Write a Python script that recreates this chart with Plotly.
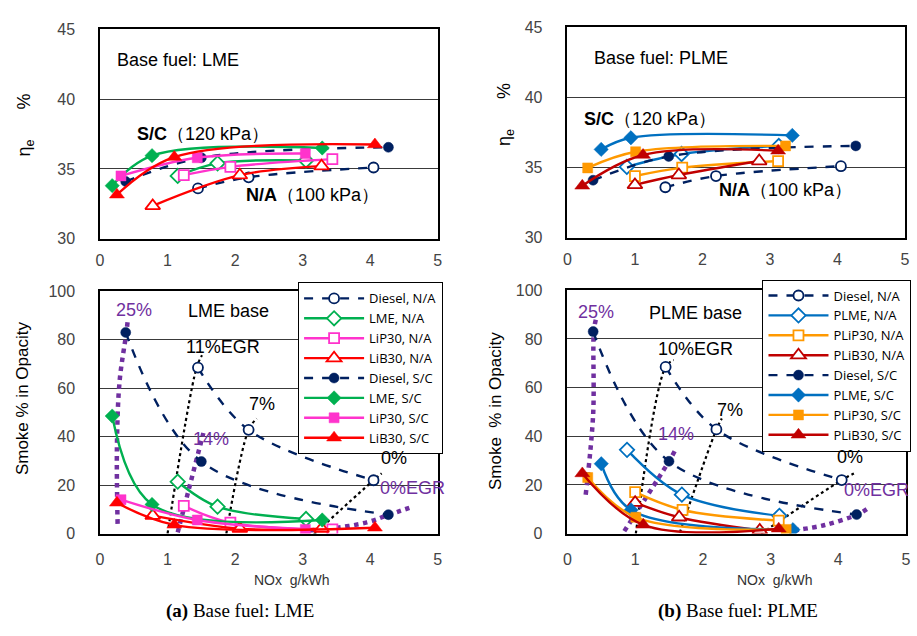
import plotly.graph_objects as go

W, H = 917, 636

# ---------------- data (NOx g/kWh, brake thermal efficiency %, smoke %) ----------------
# Base fuel: LME (left)
diesel_na_nox = [1.45, 2.20, 4.05]
diesel_na_eff = [33.6, 34.4, 35.1]
diesel_na_smk = [68.5, 42.8, 22.0]
diesel_sc_nox = [0.38, 1.50, 4.27]
diesel_sc_eff = [34.1, 35.8, 36.55]
diesel_sc_smk = [83.0, 29.7, 7.8]

lme_na_nox = [1.15, 1.74, 3.05]
lme_na_eff = [34.5, 35.4, 35.6]
lme_na_smk = [21.4, 11.1, 6.0]
lme_sc_nox = [0.18, 0.77, 3.29]
lme_sc_eff = [33.8, 35.95, 36.5]
lme_sc_smk = [48.5, 12.0, 5.6]

lip_na_nox = [1.24, 1.93, 3.44]
lip_na_eff = [34.55, 35.15, 35.7]
lip_na_smk = [11.4, 4.5, 1.7]
lip_sc_nox = [0.31, 1.44, 3.04]
lip_sc_eff = [34.5, 35.8, 36.1]
lip_sc_smk = [14.0, 5.6, 1.7]

lib_na_nox = [0.78, 2.07, 3.28]
lib_na_eff = [32.35, 34.55, 35.2]
lib_na_smk = [7.4, 2.0, 2.0]
lib_sc_nox = [0.25, 1.10, 4.07]
lib_sc_eff = [33.15, 35.85, 36.75]
lib_sc_smk = [12.7, 3.6, 2.4]

# Base fuel: PLME (right)
plme_na_nox = [0.88, 1.69, 3.13]
plme_na_eff = [35.05, 35.97, 36.55]
plme_na_smk = [34.4, 16.0, 7.3]
plme_sc_nox = [0.50, 0.94, 3.33]
plme_sc_eff = [36.3, 37.13, 37.3]
plme_sc_smk = [28.7, 9.7, 1.6]

plip_na_nox = [1.00, 1.70, 3.12]
plip_na_eff = [34.4, 35.0, 35.47]
plip_na_smk = [17.0, 9.7, 5.3]
plip_sc_nox = [0.30, 1.01, 3.23]
plip_sc_eff = [34.98, 36.13, 36.55]
plip_sc_smk = [23.0, 6.7, 1.7]

plib_na_nox = [1.00, 1.65, 2.84]
plib_na_eff = [33.77, 34.47, 35.47]
plib_na_smk = [12.7, 6.7, 1.3]
plib_sc_nox = [0.22, 1.12, 3.12]
plib_sc_eff = [33.7, 35.9, 36.2]
plib_sc_smk = [24.7, 3.6, 2.0]

# EGR guide lines (smoke plots)
egr25_l_x = [0.26, 0.25, 0.29, 0.39, 0.41]
egr25_l_y = [4, 36, 63, 83, 88]
egr14_l_x = [1.15, 1.53]
egr14_l_y = [0.5, 41.5]
egr0p_l_x = [3.10, 3.40, 3.95, 4.28, 4.58]
egr0p_l_y = [1.3, 2.0, 4.6, 7.8, 10.6]
egr11_l_x = [1.00, 1.43, 1.51]
egr11_l_y = [0, 68.5, 73.6]
egr7_l_x = [1.87, 2.20, 2.32]
egr7_l_y = [0, 42.8, 47.5]
egr0b_l_x = [3.10, 4.05, 4.17]
egr0b_l_y = [-2, 22.0, 24.8]

egr25_r_x = [0.27, 0.38, 0.39, 0.42]
egr25_r_y = [16, 49, 83, 88]
egr14_r_x = [0.84, 1.50, 1.60]
egr14_r_y = [1, 29.7, 34.7]
egr0p_r_x = [3.35, 3.80, 4.28, 4.42]
egr0p_r_y = [1.3, 3.5, 7.8, 10.0]
egr10_r_x = [1.01, 1.45, 1.57]
egr10_r_y = [0, 68.5, 71.3]
egr7_r_x = [1.63, 2.20, 2.28]
egr7_r_y = [-2, 42.8, 47.3]
egr0b_r_x = [2.86, 4.05, 4.23]
egr0b_r_y = [0, 22.0, 24.7]

# ---------------- styles ----------------
NAVY = "#002060"
GREEN = "#00B050"
MAGENTA = "#FF33CC"
RED = "#FF0000"
BLUE = "#0070C0"
ORANGE = "#FF9900"
DRED = "#C00000"
PURPLE = "#7030A0"

FONT = "Liberation Sans, Arial, sans-serif"
LEGFONT = "Open Sans, Liberation Sans, sans-serif"

left_series = [
    ("Diesel, N/A", diesel_na_nox, diesel_na_eff, diesel_na_smk, NAVY, "circle", True, "dash", 10),
    ("LME, N/A", lme_na_nox, lme_na_eff, lme_na_smk, GREEN, "diamond", True, "solid", 11),
    ("LiP30, N/A", lip_na_nox, lip_na_eff, lip_na_smk, MAGENTA, "square", True, "solid", 10),
    ("LiB30, N/A", lib_na_nox, lib_na_eff, lib_na_smk, RED, "triangle-up", True, "solid", 13),
    ("Diesel, S/C", diesel_sc_nox, diesel_sc_eff, diesel_sc_smk, NAVY, "circle", False, "dash", 10),
    ("LME, S/C", lme_sc_nox, lme_sc_eff, lme_sc_smk, GREEN, "diamond", False, "solid", 11),
    ("LiP30, S/C", lip_sc_nox, lip_sc_eff, lip_sc_smk, MAGENTA, "square", False, "solid", 10),
    ("LiB30, S/C", lib_sc_nox, lib_sc_eff, lib_sc_smk, RED, "triangle-up", False, "solid", 13),
]
right_series = [
    ("Diesel, N/A", diesel_na_nox, diesel_na_eff, diesel_na_smk, NAVY, "circle", True, "dash", 10),
    ("PLME, N/A", plme_na_nox, plme_na_eff, plme_na_smk, BLUE, "diamond", True, "solid", 11),
    ("PLiP30, N/A", plip_na_nox, plip_na_eff, plip_na_smk, ORANGE, "square", True, "solid", 10),
    ("PLiB30, N/A", plib_na_nox, plib_na_eff, plib_na_smk, DRED, "triangle-up", True, "solid", 13),
    ("Diesel, S/C", diesel_sc_nox, diesel_sc_eff, diesel_sc_smk, NAVY, "circle", False, "dash", 10),
    ("PLME, S/C", plme_sc_nox, plme_sc_eff, plme_sc_smk, BLUE, "diamond", False, "solid", 11),
    ("PLiP30, S/C", plip_sc_nox, plip_sc_eff, plip_sc_smk, ORANGE, "square", False, "solid", 10),
    ("PLiB30, S/C", plib_sc_nox, plib_sc_eff, plib_sc_smk, DRED, "triangle-up", False, "solid", 13),
]

fig = go.Figure()


def guide(x, y, xa, ya, color, width, smooth=True):
    fig.add_trace(go.Scatter(
        x=x, y=y, xaxis=xa, yaxis=ya, mode="lines", showlegend=False, hoverinfo="skip",
        line=dict(color=color, width=width, dash="dot", shape="spline" if smooth else "linear")))


# EGR guides first (drawn beneath data)
guide(egr11_l_x, egr11_l_y, "x3", "y3", "black", 2.2)
guide(egr7_l_x, egr7_l_y, "x3", "y3", "black", 2.2)
guide(egr0b_l_x, egr0b_l_y, "x3", "y3", "black", 2.2)
guide(egr25_l_x, egr25_l_y, "x3", "y3", PURPLE, 4.5)
guide(egr14_l_x, egr14_l_y, "x3", "y3", PURPLE, 4.5)
guide(egr0p_l_x, egr0p_l_y, "x3", "y3", PURPLE, 4.5)

guide(egr10_r_x, egr10_r_y, "x4", "y4", "black", 2.2)
guide(egr7_r_x, egr7_r_y, "x4", "y4", "black", 2.2)
guide(egr0b_r_x, egr0b_r_y, "x4", "y4", "black", 2.2)
guide(egr25_r_x, egr25_r_y, "x4", "y4", PURPLE, 4.5)
guide(egr14_r_x, egr14_r_y, "x4", "y4", PURPLE, 4.5)
guide(egr0p_r_x, egr0p_r_y, "x4", "y4", PURPLE, 4.5)


def add_series(series, xa_top, ya_top, xa_bot, ya_bot, legend):
    for name, x, eff, smk, color, sym, is_open, dash, size in series:
        marker = dict(symbol=sym, size=size,
                      color="white" if is_open else color,
                      line=dict(color=color, width=1.8 if is_open else 0.5))
        line = dict(color=color, width=2.4, dash=dash, shape="spline", smoothing=1.0)
        fig.add_trace(go.Scatter(x=x, y=eff, xaxis=xa_top, yaxis=ya_top, mode="lines+markers",
                                 name=name, showlegend=False, marker=marker, line=line))
        fig.add_trace(go.Scatter(x=x, y=smk, xaxis=xa_bot, yaxis=ya_bot, mode="lines+markers",
                                 name=name, showlegend=True, legend=legend, marker=marker, line=line))


add_series(left_series, "x", "y", "x3", "y3", "legend")
add_series(right_series, "x2", "y2", "x4", "y4", "legend2")


def px(v):
    return v / W


def py(v):
    return 1 - v / H


axis_common = dict(showline=True, mirror=True, linecolor="black", linewidth=1.5,
                   tickfont=dict(family=FONT, size=16, color="#444444"),
                   zeroline=False, ticks="", fixedrange=True)

xcommon = dict(axis_common, range=[0, 5], dtick=1, showgrid=False, ticklabelstandoff=6)
ycommon = dict(axis_common, showgrid=True, gridcolor="#3a3a3a", gridwidth=1, ticklabelstandoff=20)

legend_style = dict(xanchor="left", yanchor="top",
                    bgcolor="white", bordercolor="black", borderwidth=1,
                    font=dict(family=LEGFONT, size=13, color="black"),
                    itemwidth=60, tracegroupgap=0)

layout = dict(
    width=W, height=H, margin=dict(l=0, r=0, t=0, b=0),
    paper_bgcolor="white", plot_bgcolor="white",
    font=dict(family=FONT, color="black"),
    xaxis=dict(xcommon, domain=[px(97), px(438)], anchor="y"),
    yaxis=dict(ycommon, domain=[py(237), py(22)], range=[30, 45], dtick=5, anchor="x"),
    xaxis2=dict(xcommon, domain=[px(569), px(910)], anchor="y2"),
    yaxis2=dict(ycommon, domain=[py(236), py(20)], range=[30, 45], dtick=5, anchor="x2"),
    xaxis3=dict(xcommon, domain=[px(97), px(438)], anchor="y3", ticklabelstandoff=10),
    yaxis3=dict(ycommon, domain=[py(540), py(291)], range=[0, 100], dtick=20, anchor="x3"),
    xaxis4=dict(xcommon, domain=[px(569), px(911)], anchor="y4", ticklabelstandoff=10),
    yaxis4=dict(ycommon, domain=[py(540), py(290)], range=[0, 100], dtick=20, anchor="x4"),
    legend=dict(legend_style, x=px(297), y=py(282)),
    legend2=dict(legend_style, x=px(766), y=py(279)),
    showlegend=True,
)
fig.update_layout(**layout)

ann = []


def txt(text, x, y, xref, yref, size=18, color="black", family=FONT, angle=0):
    ann.append(dict(text=text, x=x, y=y, xref=xref, yref=yref, showarrow=False,
                    xanchor="center", yanchor="middle", textangle=angle,
                    font=dict(family=family, size=size, color=color)))


# top-left
txt("Base fuel: LME", 1.15, 42.84, "x", "y")
txt("<b>S/C</b>（120 kPa）", 1.52, 37.47, "x", "y")
txt("<b>N/A</b>（100 kPa）", 3.15, 33.14, "x", "y")
# top-right
txt("Base fuel: PLME", 1.38, 42.85, "x2", "y2")
txt("<b>S/C</b>（120 kPa）", 1.23, 38.47, "x2", "y2")
txt("<b>N/A</b>（100 kPa）", 3.23, 33.4, "x2", "y2")

# bottom-left
txt("25%", 0.51, 92.4, "x3", "y3", color=PURPLE)
txt("LME base", 1.90, 92.0, "x3", "y3")
txt("11%EGR", 1.82, 77.0, "x3", "y3")
txt("7%", 2.40, 53.4, "x3", "y3")
txt("14%", 1.64, 39.0, "x3", "y3", color=PURPLE)
txt("0%", 4.35, 31.0, "x3", "y3")
txt("0%EGR", 4.63, 18.9, "x3", "y3", color=PURPLE)
# bottom-right
txt("25%", 0.42, 91.2, "x4", "y4", color=PURPLE)
txt("PLME base", 1.89, 90.8, "x4", "y4")
txt("10%EGR", 1.89, 76.0, "x4", "y4")
txt("7%", 2.40, 50.8, "x4", "y4")
txt("14%", 1.61, 40.8, "x4", "y4", color=PURPLE)
txt("0%", 4.17, 31.5, "x4", "y4")
txt("0%EGR", 4.56, 18.0, "x4", "y4", color=PURPLE)

# axis titles
txt("η<sub>e</sub>      %", px(22), py(120), "paper", "paper", size=18, angle=-90)
txt("η<sub>e</sub>      %", px(506), py(110), "paper", "paper", size=18, angle=-90)
txt("Smoke % in Opacity", px(18), py(401), "paper", "paper", size=17, angle=-90)
txt("Smoke  % in Opacity", px(497), py(414), "paper", "paper", size=17, angle=-90)
txt("NOx  g/kWh", px(290), py(588), "paper", "paper", size=14, color="#333333")
txt("NOx  g/kWh", px(778), py(588), "paper", "paper", size=14, color="#333333")

# captions
txt("<b>(a)</b> Base fuel: LME", px(238), py(620), "paper", "paper", size=19,
    family="Liberation Serif, Times New Roman, serif")
txt("<b>(b)</b> Base fuel: PLME", px(741), py(620), "paper", "paper", size=19,
    family="Liberation Serif, Times New Roman, serif")

fig.update_layout(annotations=ann)

fig.write_html("out.html")
